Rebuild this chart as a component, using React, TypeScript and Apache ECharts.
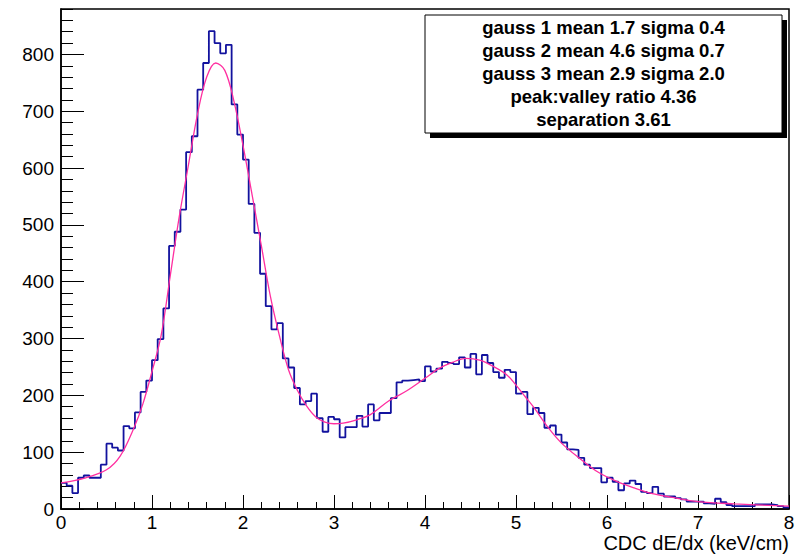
import React, { useEffect, useRef } from "react";
import * as echarts from "echarts";

// Histogram: 128 bins of width 0.0625 from 0 to 8
const xMin = 0;
const binWidth = 0.0625;
const counts = [
  46, 41, 28, 55, 59, 55, 55, 78, 115, 108,
  103, 146, 142, 170, 206, 226, 262, 299, 353, 463,
  488, 527, 628, 656, 738, 785, 841, 820, 802, 817,
  712, 659, 615, 537, 486, 414, 357, 316, 327, 265,
  249, 213, 184, 190, 203, 160, 136, 162, 158, 126,
  144, 144, 164, 145, 184, 156, 169, 169, 195, 223,
  226, 227, 228, 225, 251, 242, 247, 259, 257, 255,
  267, 249, 273, 237, 271, 257, 241, 231, 245, 241,
  203, 206, 167, 178, 169, 143, 147, 131, 117, 105,
  104, 90, 78, 72, 72, 47, 55, 48, 33, 45,
  50, 44, 30, 28, 39, 27, 22, 22, 19, 17,
  13, 13, 13, 10, 9, 18, 12, 7, 5, 5,
  5, 5, 8, 8, 8, 7, 5, 3,
];

// Fit curve samples
const fitX = [
  0, 0.25, 0.5, 0.65, 0.8, 0.9, 1.0, 1.1, 1.2, 1.3, 1.4, 1.5, 1.6, 1.7, 1.8,
  1.9, 2.0, 2.1, 2.2, 2.3, 2.4, 2.5, 2.6, 2.7, 2.8, 2.9, 3.0, 3.1, 3.25, 3.4,
  3.6, 3.8, 4.0, 4.15, 4.3, 4.45, 4.6, 4.75, 4.9, 5.0, 5.1, 5.2, 5.35, 5.5,
  5.7, 5.9, 6.1, 6.3, 6.5, 6.7, 7.0, 7.4, 8.0,
];
const fitY = [
  46, 54, 69, 93, 142, 185, 242, 305, 410, 515, 605, 695, 760, 785, 772,
  718, 640, 553, 465, 375, 305, 245, 208, 181, 162, 153, 150, 151, 157, 166,
  190, 208, 230, 247, 258, 265, 262, 251, 236, 218, 198, 178, 144, 116,
  89, 65, 49, 37, 27, 21, 13, 9, 5,
];

const statsLines = [
  "gauss 1 mean 1.7 sigma 0.4",
  "gauss 2 mean 4.6 sigma 0.7",
  "gauss 3 mean 2.9 sigma 2.0",
  "peak:valley ratio 4.36",
  "separation 3.61",
];
const xTitle = "CDC dE/dx (keV/cm)";

const FONT = "'Liberation Sans', Arial, Helvetica, sans-serif";

export default function App() {
  const ref = useRef<HTMLDivElement>(null);

  useEffect(() => {
    const chart = echarts.init(ref.current as HTMLDivElement, null, {
      renderer: "svg",
    });
    const histData: number[][] = counts.map((c, i) => [xMin + i * binWidth, c]);
    histData.push([xMin + counts.length * binWidth, counts[counts.length - 1]]);
    const fitData = fitX.map((x, i) => [x, fitY[i]]);

    const boxX = 425;
    const boxY = 15;
    const boxW = 357;
    const boxH = 118;

    const graphics: any[] = [
      {
        type: "rect",
        shape: { x: boxX + 5, y: boxY + 5, width: boxW, height: boxH },
        style: { fill: "#000" },
        z: 100,
      },
      {
        type: "rect",
        shape: { x: boxX, y: boxY, width: boxW, height: boxH },
        style: { fill: "#fff", stroke: "#000", lineWidth: 1 },
        z: 101,
      },
      ...statsLines.map((t, i) => ({
        type: "text",
        x: boxX + boxW / 2,
        y: 27.5 + i * 22.9,
        z: 102,
        style: {
          text: t,
          fill: "#000",
          font: `bold 18.5px ${FONT}`,
          textAlign: "center",
          textVerticalAlign: "middle",
        },
      })),
      {
        type: "text",
        x: 789,
        y: 543,
        z: 102,
        style: {
          text: xTitle,
          fill: "#000",
          font: `20px ${FONT}`,
          textAlign: "right",
          textVerticalAlign: "middle",
        },
      },
    ];

    chart.setOption({
      animation: false,
      backgroundColor: "#fff",
      grid: {
        left: 61,
        top: 9,
        right: 14,
        bottom: 48,
        show: true,
        borderColor: "#000",
        borderWidth: 1.5,
        backgroundColor: "transparent",
      },
      xAxis: {
        type: "value",
        min: 0,
        max: 8,
        interval: 1,
        axisLine: { show: true, onZero: false, lineStyle: { color: "#000", width: 1.5 } },
        axisTick: { show: true, inside: true, length: 14, lineStyle: { color: "#000", width: 1 } },
        minorTick: { show: true, splitNumber: 5, length: 7, lineStyle: { color: "#000", width: 1 } },
        axisLabel: { color: "#000", fontSize: 19, fontFamily: FONT, margin: 4 },
        splitLine: { show: false },
        minorSplitLine: { show: false },
      },
      yAxis: [
        {
          type: "value",
          position: "left",
          min: 0,
          max: 880,
          interval: 100,
          axisLine: { show: true, onZero: false, lineStyle: { color: "#000", width: 1.5 } },
          axisTick: { show: true, inside: true, length: 23, lineStyle: { color: "#000", width: 1 } },
          axisLabel: {
            color: "#000",
            fontSize: 19,
            fontFamily: FONT,
            margin: 7,
            showMaxLabel: false,
          },
          splitLine: { show: false },
        },
        {
          type: "value",
          position: "left",
          min: 0,
          max: 880,
          interval: 20,
          axisLine: { show: false },
          axisTick: { show: true, inside: true, length: 12, lineStyle: { color: "#000", width: 1 } },
          axisLabel: { show: false },
          splitLine: { show: false },
        },
      ],
      series: [
        {
          type: "line",
          name: "hist",
          data: histData,
          step: "end",
          showSymbol: false,
          symbol: "none",
          yAxisIndex: 0,
          lineStyle: { color: "#12129e", width: 1.8 },
          z: 3,
        },
        {
          type: "line",
          name: "fit",
          data: fitData,
          smooth: 0.35,
          showSymbol: false,
          symbol: "none",
          yAxisIndex: 0,
          lineStyle: { color: "#ff2fa0", width: 1.3 },
          z: 4,
        },
      ],
      graphic: graphics,
    });

    return () => {
      chart.dispose();
    };
  }, []);

  return (
    <div
      ref={ref}
      style={{
        position: "fixed",
        left: 0,
        top: 0,
        width: 803,
        height: 557,
        background: "#fff",
      }}
    />
  );
}
